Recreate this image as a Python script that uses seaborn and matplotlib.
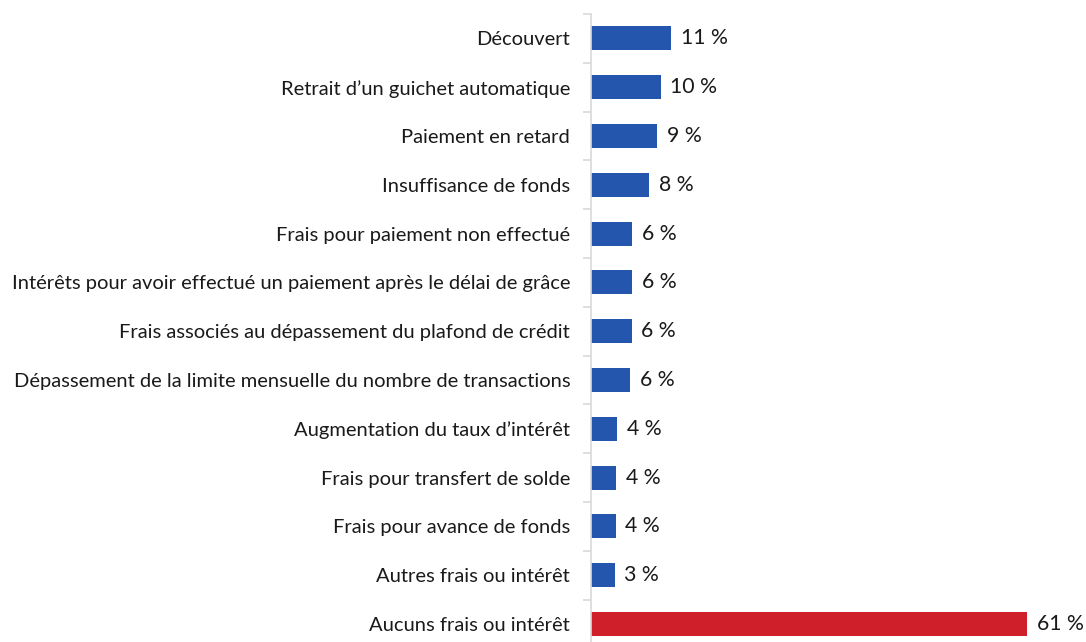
import numpy as np
import pandas as pd
import seaborn as sns
import matplotlib.pyplot as plt
from matplotlib.ticker import FixedLocator

categories = [
    "Découvert",
    "Retrait d’un guichet automatique",
    "Paiement en retard",
    "Insuffisance de fonds",
    "Frais pour paiement non effectué",
    "Intérêts pour avoir effectué un paiement après le délai de grâce",
    "Frais associés au dépassement du plafond de crédit",
    "Dépassement de la limite mensuelle du nombre de transactions",
    "Augmentation du taux d’intérêt",
    "Frais pour transfert de solde",
    "Frais pour avance de fonds",
    "Autres frais ou intérêt",
    "Aucuns frais ou intérêt",
]
values = [11.2, 9.75, 9.25, 8.1, 5.8, 5.75, 5.7, 5.5, 3.65, 3.55, 3.45, 3.3, 61.0]
value_labels = ["11 %", "10 %", "9 %", "8 %", "6 %", "6 %", "6 %", "6 %",
                "4 %", "4 %", "4 %", "3 %", "61 %"]

df = pd.DataFrame({"cat": categories, "val": values, "lab": value_labels})
df["grp"] = ["none" if c == "Aucuns frais ou intérêt" else "fee" for c in categories]

sns.set_style("white")
plt.rcParams['font.family'] = ['Lato', 'DejaVu Sans']

fig = plt.figure(figsize=(10.86, 6.42), dpi=100)
# axes from x=591px to right edge, y=14px down to bottom of figure
ax = fig.add_axes([591 / 1086, 0, 1 - 591 / 1086, (642 - 14) / 642])

sns.barplot(data=df, x="val", y="cat", hue="grp", dodge=False,
            palette={"fee": "#2356AC", "none": "#CE1F2B"}, saturation=1,
            width=0.49, linewidth=0, legend=False, ax=ax)

# one container per hue group, in hue order
for cont, g in zip(ax.containers, ["fee", "none"]):
    labs = df.loc[df["grp"] == g, "lab"].tolist()
    ax.bar_label(cont, labels=labs, padding=7, fontsize=15.3, color="#1a1a1a")

ax.set_xlim(0, 69.25)
ax.set_ylim(12.37, -0.5)
ax.set_xlabel("")
ax.set_ylabel("")
ax.set_xticks([])

for s in ["top", "right", "bottom"]:
    ax.spines[s].set_visible(False)
ax.spines["left"].set_color("#d9d9d9")
ax.spines["left"].set_linewidth(1.2)

ax.tick_params(axis="y", which="major", length=0, pad=15, labelsize=14.5,
               labelcolor="#1a1a1a")
ax.yaxis.set_minor_locator(FixedLocator(np.arange(-0.5, 13, 1)))
ax.tick_params(axis="y", which="minor", length=6, color="#d9d9d9", width=1.2,
               direction="out", left=True)

fig.savefig("out.png", dpi=100)
